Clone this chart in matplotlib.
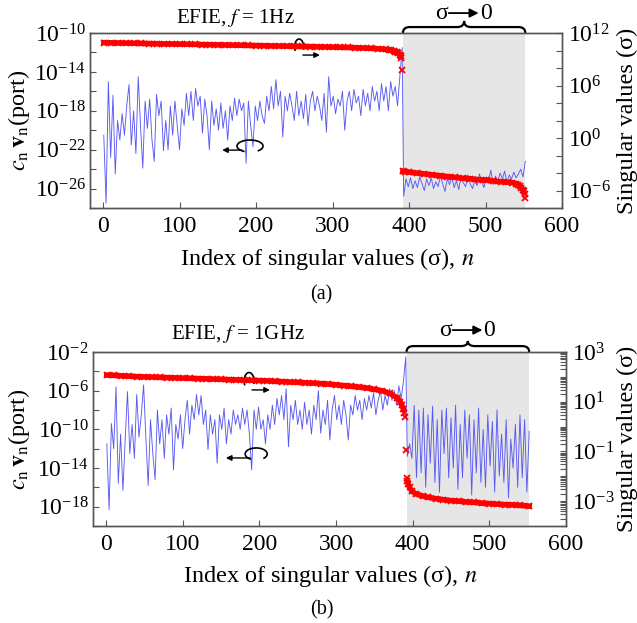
import matplotlib
matplotlib.use("Agg")
import matplotlib.pyplot as plt
import matplotlib.transforms as mtransforms
import numpy as np
from matplotlib.patches import Arc, PathPatch
from matplotlib.path import Path
from matplotlib.ticker import FixedLocator, NullFormatter

plt.rcParams['font.family'] = ['Liberation Serif', 'DejaVu Serif']
plt.rcParams['mathtext.fontset'] = 'stix'

# ---------------- data (log10 of the plotted values) ----------------
# (a) EFIE, f = 1 Hz : |c_n v_n(port)|, left axis
blue_a_pre = [
    -20.5, -27.5, -15.0, -22.8, -16.4, -24.5, -19.0, -21.0, -18.3, -20.5,
    -17.5, -15.3, -21.5, -18.0, -22.4, -14.5, -19.5, -23.9, -17.0, -19.8,
    -16.8, -21.0, -23.2, -16.3, -18.5, -17.0, -22.1, -19.0, -22.0, -17.5,
    -20.5, -17.0, -19.5, -22.0, -17.8, -19.5, -16.2, -18.5, -16.0, -19.0,
    -15.7, -17.5, -16.5, -20.3, -16.8, -18.5, -22.0, -17.0, -19.5, -17.8,
    -20.0, -17.2, -19.8, -18.0, -21.0, -17.5, -19.0, -16.7, -18.5, -16.8,
    -18.0, -17.2, -23.4, -17.0, -19.5, -21.7, -17.5, -19.0, -17.0, -18.5,
    -19.3, -16.5, -18.0, -15.5, -17.8, -14.8, -17.5, -16.0, -20.7, -16.5,
    -18.0, -16.2, -17.5, -19.0, -16.0, -18.5, -17.0, -18.8, -16.3, -19.5,
    -17.0, -16.0, -18.0, -16.5, -17.5, -19.0, -16.2, -20.2, -14.5, -17.5,
    -16.5, -18.3, -16.8, -17.5, -16.0, -20.0, -17.0, -16.0, -18.0, -15.8,
    -17.2, -16.5, -18.5, -15.8, -17.5, -16.2, -18.0, -15.5, -17.0, -16.0,
    -18.0, -15.2, -17.0, -15.5, -18.0, -15.0, -16.5, -15.5, -17.5, -14.5]
blue_a_spike = -11.5
blue_a_post = [
    -26.8, -25.0, -25.8, -24.9, -26.0, -25.2, -25.9, -24.8, -25.5, -26.2,
    -25.0, -25.7, -24.9, -26.0, -25.3, -25.8, -24.7, -25.5, -26.3, -25.0,
    -25.6, -24.8, -25.9, -25.2, -26.1, -24.9, -25.4, -25.8, -24.6, -25.5,
    -26.0, -25.1, -25.7, -24.5, -25.3, -25.9, -24.8, -25.2, -24.1, -25.6,
    -24.7, -25.3, -24.4, -25.0, -24.2, -25.4, -24.6, -25.0, -24.3, -24.9,
    -24.5, -24.0, -24.8, -23.2]

# (a) singular values, right axis
red_a_top_n = [1] + list(range(10, 371, 10)) + [374, 377, 380, 382, 384, 386, 388]
red_a_top = [10.90, 10.88, 10.86, 10.85, 10.83, 10.81, 10.80, 10.78, 10.76, 10.75,
             10.73, 10.72, 10.70, 10.68, 10.67, 10.65, 10.63, 10.62, 10.60, 10.58,
             10.57, 10.55, 10.53, 10.52, 10.50, 10.48, 10.46, 10.45, 10.43, 10.41,
             10.39, 10.37, 10.35, 10.32, 10.29, 10.25, 10.20, 10.12,
             10.07, 10.02, 9.95, 9.88, 9.80, 9.68, 9.50]
red_a_jump_n = [389, 390, 391, 551, 552]
red_a_jump = [9.35, 9.15, 7.8, -6.4, -6.9]
red_a_low_n = [392, 395, 400, 410, 420, 430, 440, 450, 460, 470, 480, 490,
               500, 510, 520, 530, 535, 540, 543, 545, 547, 549, 550]
red_a_low = [-3.8, -3.85, -3.9, -4.0, -4.1, -4.2, -4.3, -4.4, -4.5, -4.6, -4.65, -4.75,
             -4.8, -4.9, -5.0, -5.05, -5.1, -5.2, -5.35, -5.5, -5.7, -5.9, -6.1]

# (b) EFIE, f = 1 GHz : |c_n v_n(port)|, left axis
blue_b_pre = [
    -11.5, -18.3, -9.4, -12.0, -5.6, -15.6, -10.5, -16.3, -11.0, -6.1,
    -12.5, -9.5, -13.0, -6.4, -10.8, -8.5, -5.4, -11.0, -15.8, -9.0,
    -12.5, -15.2, -8.0, -11.5, -9.0, -13.0, -8.5, -10.5, -7.8, -14.2,
    -9.5, -11.0, -8.5, -12.0, -9.0, -7.0, -10.5, -7.5, -9.0, -6.4,
    -8.5, -6.5, -9.5, -8.0, -12.1, -8.5, -10.5, -9.0, -13.5, -8.5,
    -10.0, -7.8, -11.5, -9.0, -10.5, -8.0, -9.5, -8.5, -10.0, -7.8,
    -9.5, -8.0, -10.5, -14.2, -8.0, -10.0, -7.7, -10.0, -9.0, -11.5,
    -8.5, -10.0, -7.5, -9.5, -6.8, -8.5, -6.5, -9.0, -5.8, -11.8,
    -7.5, -9.0, -7.0, -9.5, -8.0, -10.0, -7.2, -9.5, -8.0, -10.5,
    -7.5, -9.0, -6.0, -10.4, -8.0, -9.5, -7.0, -11.1, -8.0, -6.5,
    -9.0, -7.5, -9.5, -7.0, -8.5, -11.1, -7.5, -8.5, -6.5, -8.0,
    -7.0, -9.0, -6.8, -8.0, -6.5, -7.8, -6.2, -8.5, -7.0, -6.0,
    -8.0, -6.5, -7.5, -5.8, -7.0, -6.0, -7.5, -5.5, -6.8, -5.0]
blue_b_spike = -2.5
blue_b_post = [
    -12.8, -11.5, -13.0, -7.5, -15.0, -8.0, -14.5, -7.8, -16.0, -8.5,
    -13.5, -7.6, -15.5, -9.0, -16.5, -8.0, -12.5, -7.8, -15.0, -8.8,
    -14.0, -7.5, -16.2, -9.5, -15.0, -8.0, -13.0, -8.5, -16.8, -9.0,
    -14.5, -7.8, -15.5, -10.0, -16.0, -8.5, -13.8, -9.2, -16.5, -8.0,
    -14.8, -10.5, -15.5, -9.0, -17.1, -11.0, -14.0, -9.5, -16.0, -8.5,
    -15.0, -9.0, -16.5, -10.2]

# (b) singular values, right axis
red_b_top_n = [1] + list(range(10, 381, 10)) + [384, 386, 388]
red_b_top = [2.07, 2.06, 2.04, 2.03, 2.01, 2.00, 1.99, 1.98, 1.97, 1.96,
             1.95, 1.94, 1.93, 1.92, 1.91, 1.90, 1.89, 1.88, 1.87, 1.86,
             1.85, 1.84, 1.82, 1.81, 1.79, 1.78, 1.76, 1.75, 1.73, 1.71,
             1.68, 1.65, 1.62, 1.59, 1.55, 1.50, 1.44, 1.34, 1.15,
             1.0, 0.85, 0.7]
red_b_jump_n = [389, 390, 391, 392]
red_b_jump = [0.55, 0.4, -0.94, -2.07]
red_b_low_n = [393, 394, 396, 399, 405, 414, 420, 430, 440, 450, 460, 470,
               480, 490, 500, 510, 520, 530, 540, 552]
red_b_low = [-2.2, -2.3, -2.45, -2.6, -2.72, -2.8, -2.84, -2.9, -2.94, -2.98, -3.0, -3.03,
             -3.05, -3.08, -3.1, -3.12, -3.14, -3.15, -3.17, -3.2]

n_pre = np.arange(1, 389, 3)
n_spike = 391
n_post = np.arange(393, 553, 3)
zero_band = (392, 552)   # sigma -> 0 region

BLUE = '#5a5af2'
RED = '#ff0000'
SPINE = '#555555'
FS = 17


def brace(ax, x0, x1, yb, yt):
    tr = mtransforms.blended_transform_factory(ax.transData, ax.transAxes)
    xm = 0.5 * (x0 + x1)
    q = 9
    verts = [(x0, 1.0), (x0, yb), (x0 + q, yb), (xm - q, yb), (xm, yb), (xm, yt),
             (xm, yb), (xm + q, yb), (x1 - q, yb), (x1, yb), (x1, 1.0)]
    codes = [Path.MOVETO, Path.CURVE3, Path.CURVE3, Path.LINETO, Path.CURVE3, Path.CURVE3,
             Path.CURVE3, Path.CURVE3, Path.LINETO, Path.CURVE3, Path.CURVE3]
    ax.add_patch(PathPatch(Path(verts, codes), fc='none', ec='black', lw=1.6,
                           transform=tr, clip_on=False))


def panel(rect, bpre, bspike, bpost, rtop_n, rtop, rjump_n, rjump, rlow_n, rlow,
          llim, lmaj, lmin, rlim, rmaj, rmin, rsubs, title, tpos, letter, lpos,
          lab_x, loops, brace_y, sig_y):
    ax = fig.add_axes(rect)
    ax2 = ax.twinx()
    ax.axvspan(*zero_band, color='#e6e6e6', lw=0, zorder=0)

    bn = np.concatenate([n_pre, [n_spike], n_post])
    bv = np.concatenate([bpre, [bspike], bpost])
    ax.plot(bn, 10.0 ** bv, color=BLUE, lw=0.65, zorder=2)

    kw = dict(color=RED, marker='x', ms=4.5, mew=1.3)
    ax2.plot(rtop_n, 10.0 ** np.array(rtop), lw=4, **kw)
    ax2.plot(rlow_n, 10.0 ** np.array(rlow), lw=4, **kw)
    ax2.plot(rjump_n, 10.0 ** np.array(rjump), ls='none', **kw)

    ax.set_xlim(-17, 600)
    ax.set_xticks(range(0, 601, 100))
    for a, lim, maj, mn in ((ax, llim, lmaj, lmin), (ax2, rlim, rmaj, rmin)):
        a.set_yscale('log')
        a.set_ylim(10.0 ** lim[0], 10.0 ** lim[1])
        a.yaxis.set_major_locator(FixedLocator([10.0 ** e for e in maj]))
        a.yaxis.set_minor_locator(FixedLocator([10.0 ** e for e in mn]))
        a.yaxis.set_minor_formatter(NullFormatter())
        a.tick_params(which='both', direction='in', length=4, width=0.8,
                      color=SPINE, labelsize=FS)
    if rsubs:
        subs = [10.0 ** e * s for e in range(rlim[0], rlim[1]) for s in range(2, 10)]
        ax2.yaxis.set_minor_locator(FixedLocator([10.0 ** e for e in rmin] + subs))
    ax.tick_params(axis='x', direction='in', length=4, width=0.8, color=SPINE,
                   labelsize=FS, pad=6)
    ax2.tick_params(axis='y', pad=4)
    ax.tick_params(axis='y', pad=3)
    for a in (ax, ax2):
        for s in a.spines.values():
            s.set_color(SPINE)
            s.set_linewidth(1.0)

    ax.set_xlabel(r'Index of singular values (σ), $n$', fontsize=FS + 0.5)
    ax.xaxis.set_label_coords(lab_x[0], lab_x[1])
    ax.set_ylabel(r'$c_{\rm n}\,\mathbf{v}_{\rm n}$(port)', fontsize=FS + 0.5)
    ax.yaxis.set_label_coords(lab_x[2], 0.5)
    ax2.set_ylabel('Singular values (σ)', fontsize=FS + 0.5)
    ax2.yaxis.set_label_coords(lab_x[3], 0.5)

    fig.text(tpos[0], tpos[1], title, fontsize=FS - 2, ha='center', va='center')
    fig.text(lpos[0], lpos[1], letter, fontsize=FS - 2.5, ha='center', va='center')

    # rotation indicators (which axis each curve belongs to)
    for (cx, cy, w, h, ax0, ax1, ay) in loops:
        ax.add_patch(Arc((cx, cy), w, h, theta1=300, theta2=250, transform=ax.transAxes,
                         lw=1.2, color='black', clip_on=False, zorder=5))
        ax.annotate('', xy=(ax1, ay), xytext=(ax0, ay), xycoords='axes fraction',
                    arrowprops=dict(arrowstyle='-|>', lw=1.0, color='black',
                                    mutation_scale=8, shrinkA=0, shrinkB=0), zorder=5)

    brace(ax, zero_band[0], zero_band[1], brace_y[0], brace_y[1])
    tr = mtransforms.blended_transform_factory(ax.transData, ax.transAxes)
    ax.text(443, sig_y, 'σ', transform=tr, ha='center', va='center', fontsize=FS)
    ax.text(500, sig_y, '0', transform=tr, ha='center', va='center', fontsize=FS)
    ax.annotate('', xy=(491, sig_y), xytext=(452, sig_y), xycoords=tr,
                arrowprops=dict(arrowstyle='-|>', lw=1.3, color='black',
                                mutation_scale=13, shrinkA=0, shrinkB=0))
    return ax, ax2


fig = plt.figure(figsize=(6.37, 6.23), dpi=100)

panel([0.1413, 0.6661, 0.741, 0.2809], blue_a_pre, blue_a_spike, blue_a_post,
      red_a_top_n, red_a_top, red_a_jump_n, red_a_jump, red_a_low_n, red_a_low,
      (-28, -10), [-10, -14, -18, -22, -26], [-12, -16, -20, -24, -28],
      (-8, 12), [12, 6, 0, -6], [10, 8, 4, 2, -2, -4, -8], False,
      r'EFIE, $f$ = 1Hz', (0.370, 0.971), '(a)', (0.505, 0.527),
      (0.502, -0.215, -0.123, 1.117),
      [(0.443, 0.92, 0.019, 0.091, 0.451, 0.487, 0.874),
       (0.339, 0.354, 0.055, 0.069, 0.322, 0.280, 0.331)],
      (1.034, 1.069), 1.114)

panel([0.146, 0.1557, 0.7425, 0.2793], blue_b_pre, blue_b_spike, blue_b_post,
      red_b_top_n, red_b_top, red_b_jump_n, red_b_jump, red_b_low_n, red_b_low,
      (-20, -2), [-2, -6, -10, -14, -18], [-4, -8, -12, -16, -20],
      (-4, 3), [3, 1, -1, -3], [2, 0, -2, -4], True,
      r'EFIE, $f$ = 1GHz', (0.374, 0.464), '(b)', (0.505, 0.021),
      (0.501, -0.213, -0.129, 1.108),
      [(0.330, 0.833, 0.021, 0.098, 0.336, 0.374, 0.782),
       (0.345, 0.414, 0.0465, 0.069, 0.332, 0.281, 0.391)],
      (1.034, 1.063), 1.126)

fig.savefig('out.png', dpi=100)
